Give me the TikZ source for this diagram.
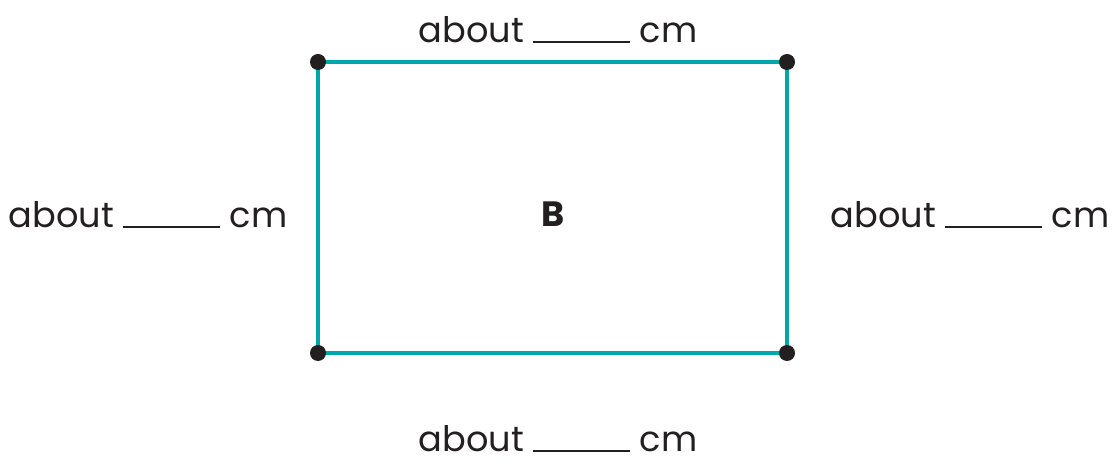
\documentclass[tikz,border=0pt]{standalone}
\usepackage{fontspec}
\setmainfont{Poppins}
\usepackage{xcolor}
\usepackage{tikz}
\definecolor{rectteal}{HTML}{00A7AA}
\definecolor{inkdark}{HTML}{231F20}

\begin{document}
\begin{tikzpicture}[semithick]
\tikzstyle{measure}=[text=inkdark, inner sep=0pt, font=\fontsize{20}{24}\selectfont]
\tikzstyle{corner}=[fill=inkdark, circle, inner sep=0pt, minimum size=0.32cm]
  \useasboundingbox (0,0) rectangle (22.28,9.38);
  \coordinate (tl) at (6.36,8.14);
  \coordinate (tr) at (15.74,8.14);
  \coordinate (bl) at (6.36,2.32);
  \coordinate (br) at (15.74,2.32);
  \draw[rectteal, line width=1.8pt] (tl) -- (tr) -- (br) -- (bl) -- cycle;
  \foreach \c in {tl,tr,bl,br}
    \node[corner] at (\c) {};
  \node[measure] (toplen)    at (11.16,8.78) {about \rule{1.94cm}{1.2pt} cm};
  \node[measure] (leftlen)   at (2.96,5.08)  {about \rule{1.94cm}{1.2pt} cm};
  \node[measure] (rightlen)  at (19.40,5.08) {about \rule{1.94cm}{1.2pt} cm};
  \node[measure] (bottomlen) at (11.16,0.60) {about \rule{1.94cm}{1.2pt} cm};
  \node[measure, font=\bfseries\fontsize{20}{24}\selectfont] (name) at (11.06,5.10) {B};
\end{tikzpicture}
\end{document}
